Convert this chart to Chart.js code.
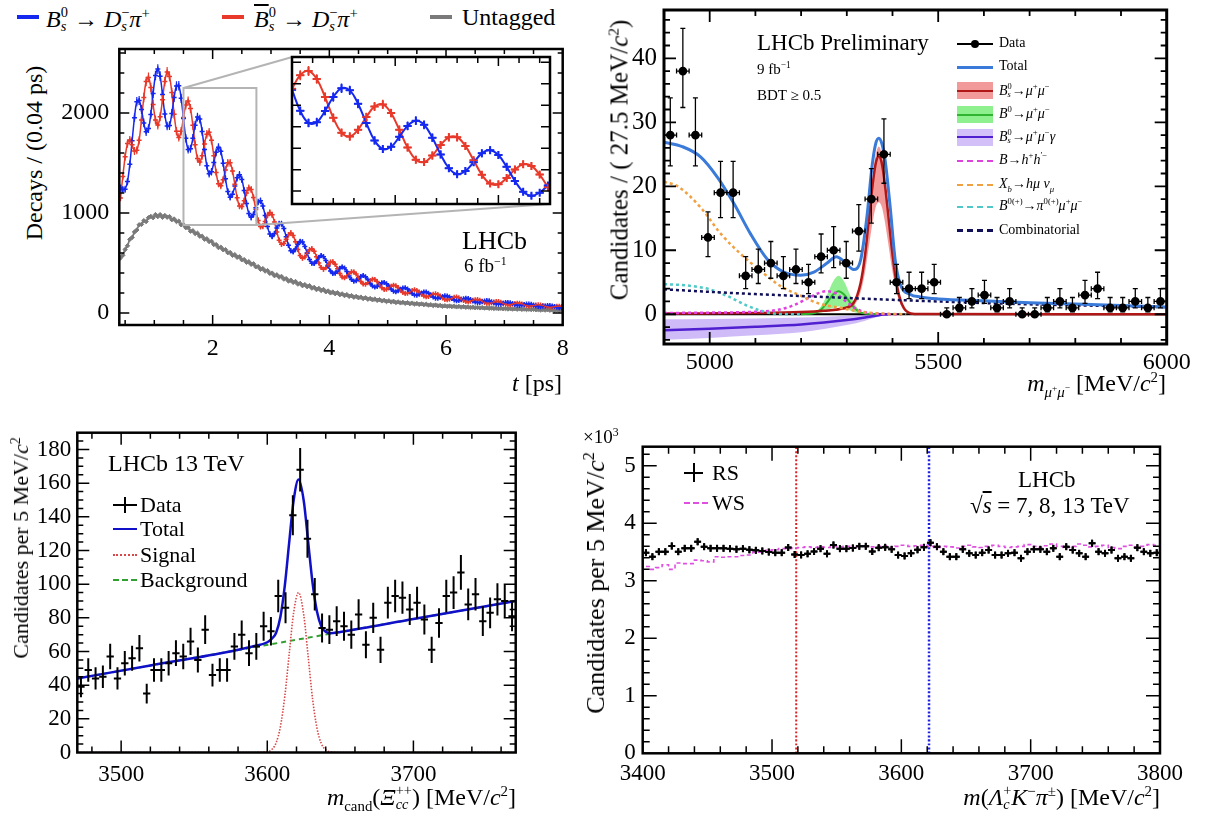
<!DOCTYPE html>
<html lang="en">
<head>
<meta charset="utf-8">
<title>LHCb results</title>
<script src="https://cdn.jsdelivr.net/npm/chart.js@4.4.1/dist/chart.umd.min.js"></script>
<style>
  html, body { margin: 0; padding: 0; background: #fff; }
  body { position: relative; width: 1207px; height: 817px; overflow: hidden;
         font-family: "Liberation Serif", "Times New Roman", serif; color: #000; }
  canvas { position: absolute; }
  .t { position: absolute; white-space: nowrap; line-height: 1; z-index: 5; }
  .v { position: absolute; white-space: nowrap; line-height: 1; z-index: 5;
       transform: translate(-50%, -50%) rotate(-90deg); }
  .sym { position: absolute; z-index: 5; }
  sup, sub { font-size: 0.62em; line-height: 0; }
  .ss { display: inline-block; font-size: 0.6em; line-height: 1; vertical-align: -0.32em; text-align: left; }
</style>
</head>
<body>

<canvas id="tl"></canvas>
<canvas id="tlInset" style="z-index:3"></canvas>
<canvas id="tr"></canvas>
<canvas id="bl"></canvas>
<canvas id="br"></canvas>

<!-- top left -->
<div class="sym" style="left:17px;top:15px;width:22px;height:4px;background:#1428f0"></div>
<div class="t" style="left:46px;top:5px;font-size:24px"><i>B</i><span class="ss">0<br><i>s</i></span> → <i>D</i><span class="ss">−<br><i>s</i></span><i>π</i><sup>+</sup></div>
<div class="sym" style="left:222px;top:15px;width:22px;height:4px;background:#e8392a"></div>
<div class="t" style="left:254px;top:5px;font-size:24px"><i style="text-decoration:overline">B</i><span class="ss">0<br><i>s</i></span> → <i>D</i><span class="ss">−<br><i>s</i></span><i>π</i><sup>+</sup></div>
<div class="sym" style="left:430px;top:15px;width:22px;height:4px;background:#7a7a7a"></div>
<div class="t" style="left:462px;top:5px;font-size:24px">Untagged</div>
<div class="v" style="left:34px;top:153px;font-size:24px">Decays / (0.04 ps)</div>
<div class="t" style="right:645px;top:371px;font-size:24px"><i>t</i> [ps]</div>
<div class="t" style="left:462px;top:228px;font-size:26px">LHCb</div>
<div class="t" style="left:464px;top:256px;font-size:19px">6 fb<sup>−1</sup></div>

<!-- top right -->
<div class="v" style="left:619px;top:160px;font-size:25px">Candidates / ( 27.5 MeV/<i>c</i><sup>2</sup>)</div>
<div class="t" style="right:41px;top:371px;font-size:24px"><i>m</i><sub><i>μ</i><sup>+</sup><i>μ</i><sup>−</sup></sub> [MeV/<i>c</i><sup>2</sup>]</div>
<div class="t" style="left:757px;top:31px;font-size:23px">LHCb Preliminary</div>
<div class="t" style="left:757px;top:62px;font-size:15px">9 fb<sup>−1</sup></div>
<div class="t" style="left:757px;top:88px;font-size:15px">BDT ≥ 0.5</div>

<div class="sym" style="left:957px;top:43px;width:36px;height:2px;background:#000"></div>
<div class="sym" style="left:971px;top:40px;width:8px;height:8px;border-radius:50%;background:#000"></div>
<div class="t" style="left:999px;top:36px;font-size:14px">Data</div>
<div class="sym" style="left:957px;top:66px;width:36px;height:3px;background:#3a7ad8"></div>
<div class="t" style="left:999px;top:59px;font-size:14px">Total</div>
<div class="sym" style="left:957px;top:82px;width:36px;height:17px;background:#f29a9a"></div>
<div class="sym" style="left:957px;top:90px;width:36px;height:2px;background:#b01818"></div>
<div class="t" style="left:999px;top:83px;font-size:14px"><i>B</i><span class="ss">0<br><i>s</i></span>→<i>μ</i><sup>+</sup><i>μ</i><sup>−</sup></div>
<div class="sym" style="left:957px;top:106px;width:36px;height:17px;background:#8ef08e"></div>
<div class="sym" style="left:957px;top:114px;width:36px;height:2px;background:#2fb52f"></div>
<div class="t" style="left:999px;top:107px;font-size:14px"><i>B</i><sup>0</sup>→<i>μ</i><sup>+</sup><i>μ</i><sup>−</sup></div>
<div class="sym" style="left:957px;top:129px;width:36px;height:17px;background:#d3c0f8"></div>
<div class="sym" style="left:957px;top:136px;width:36px;height:2px;background:#5020d0"></div>
<div class="t" style="left:999px;top:129px;font-size:14px"><i>B</i><span class="ss">0<br><i>s</i></span>→<i>μ</i><sup>+</sup><i>μ</i><sup>−</sup><i>γ</i></div>
<div class="sym" style="left:957px;top:160px;width:36px;border-top:2px dashed #e040e0"></div>
<div class="t" style="left:999px;top:153px;font-size:14px"><i>B</i>→<i>h</i><sup>+</sup><i>h</i><sup>′−</sup></div>
<div class="sym" style="left:957px;top:184px;width:36px;border-top:2px dashed #f0a040"></div>
<div class="t" style="left:999px;top:177px;font-size:14px"><i>X</i><sub><i>b</i></sub>→<i>hμ ν</i><sub><i>μ</i></sub></div>
<div class="sym" style="left:957px;top:206px;width:36px;border-top:2px dashed #50c8c8"></div>
<div class="t" style="left:999px;top:199px;font-size:14px"><i>B</i><sup>0(+)</sup>→<i>π</i><sup>0(+)</sup><i>μ</i><sup>+</sup><i>μ</i><sup>−</sup></div>
<div class="sym" style="left:957px;top:229px;width:36px;border-top:3px dashed #10105a"></div>
<div class="t" style="left:999px;top:223px;font-size:14px">Combinatorial</div>

<!-- bottom left -->
<div class="v" style="left:21px;top:548px;font-size:22px">Candidates per 5 MeV/<i>c</i><sup>2</sup></div>
<div class="t" style="right:691px;top:783px;font-size:24px"><i>m</i><sub>cand</sub>(<i>Ξ</i><span class="ss">++<br><i>cc</i></span>) [MeV/<i>c</i><sup>2</sup>]</div>
<div class="t" style="left:108px;top:451px;font-size:24px">LHCb 13 TeV</div>
<div class="sym" style="left:113px;top:504px;width:24px;height:2px;background:#000"></div>
<div class="sym" style="left:124px;top:497px;width:2px;height:16px;background:#000"></div>
<div class="t" style="left:140px;top:494px;font-size:22px">Data</div>
<div class="sym" style="left:113px;top:528px;width:24px;border-top:2px solid #1010c8"></div>
<div class="t" style="left:140px;top:518px;font-size:22px">Total</div>
<div class="sym" style="left:113px;top:554px;width:24px;border-top:2px dotted #d84848"></div>
<div class="t" style="left:140px;top:544px;font-size:22px">Signal</div>
<div class="sym" style="left:113px;top:579px;width:24px;border-top:2px dashed #30a030"></div>
<div class="t" style="left:140px;top:569px;font-size:22px">Background</div>

<!-- bottom right -->
<div class="t" style="left:583px;top:427px;font-size:19px">×10<sup>3</sup></div>
<div class="v" style="left:596px;top:583px;font-size:26px">Candidates per 5 MeV/<i>c</i><sup>2</sup></div>
<div class="t" style="right:47px;top:783px;font-size:24px"><i>m</i>(<i>Λ</i><span class="ss">+<br><i>c</i></span><i>K</i><sup>−</sup><i>π</i><sup>±</sup>) [MeV/<i>c</i><sup>2</sup>]</div>
<div class="sym" style="left:684px;top:472px;width:19px;height:2px;background:#000"></div>
<div class="sym" style="left:693px;top:463px;width:2px;height:19px;background:#000"></div>
<div class="t" style="left:712px;top:462px;font-size:22px">RS</div>
<div class="sym" style="left:684px;top:502px;width:24px;border-top:2px dashed #e050e0"></div>
<div class="t" style="left:712px;top:492px;font-size:22px">WS</div>
<div class="t" style="left:1018px;top:468px;font-size:23px">LHCb</div>
<div class="t" style="left:970px;top:494px;font-size:23px">√<span style="text-decoration:overline"><i>s</i></span> = 7, 8, 13 TeV</div>

<script>
// ---------- top left: Bs -> Ds pi decay time ----------
const TIME_BIN_START = 0.4;
const TIME_BIN_WIDTH = 0.04;
const TIME_TICKS = [2, 4, 6, 8];
const DECAY_TICKS = [0, 1000, 2000];

const BS_TAGGED = [
  1249,1236,1238,1314,1487,1722,1953,2113,2125,2035,
  1901,1813,1844,1986,2196,2375,2439,2368,2185,1991,
  1870,1874,1995,2156,2271,2272,2147,1945,1748,1636,
  1643,1747,1877,1959,1939,1815,1634,1472,1392,1413,
  1506,1608,1657,1618,1498,1342,1214,1158,1187,1269,
  1352,1382,1336,1226,1095,994,957,986,1052,1110,
  1122,1071,974,866,789,766,795,849,892,893,
  844,762,677,623,612,641,686,716,710,666,
  599,535,497,494,521,555,574,563,524,469,
  421,395,398,421,448,460,450,415,371,334,
  317,323,344,366,374,362,333,298,270,259,
  266,285,303,306,293,268,240,218,213,222,
  238,250,253,241,218,195,180,178,187,201,
  210,210,198,179,160,148,147,155,166,172,
  170,160,145,131,123,125,132,142,147,144,
  134,121,109,104,106,113,121,125,122,112,
  101,92,88,91,97,104,106,103,94,85,
  78,75,79,84,90,90,87,79,70,65,
  63,67,71,75,75,71,64,57,52,52
];
const BSBAR_TAGGED = [
  1151,1364,1562,1694,1729,1682,1619,1627,1727,1929,
  2155,2315,2356,2254,2084,1931,1879,1962,2133,2315,
  2410,2366,2205,1988,1817,1756,1817,1955,2080,2120,
  2045,1877,1683,1545,1509,1573,1690,1788,1808,1727,
  1572,1406,1293,1272,1332,1430,1502,1502,1421,1287,
  1152,1070,1064,1122,1201,1250,1235,1154,1036,926,
  864,867,916,976,1005,982,909,811,728,687,
  696,738,783,801,776,713,636,574,548,560,
  597,633,643,618,563,501,454,437,452,483,
  509,513,488,443,394,360,352,367,393,412,
  411,389,352,314,290,288,303,324,338,335,
  314,283,253,236,237,250,268,278,273,254,
  228,206,195,197,210,225,232,226,209,187,
  170,162,166,177,188,192,185,169,150,136,
  132,138,147,157,159,153,140,126,115,112,
  118,127,133,134,128,117,105,97,96,102,
  109,114,114,107,97,88,82,83,88,95,
  98,97,91,82,74,70,71,75,80,83,
  81,75,67,61,57,59,62,67,68,66
];
const UNTAGGED = [
  550,577,635,672,736,756,810,830,882,886,
  923,914,953,966,953,984,964,984,957,975,
  958,964,933,940,915,918,882,884,853,855,
  818,823,795,798,768,768,738,742,714,717,
  685,684,654,658,632,634,603,605,577,583,
  557,562,532,534,507,513,487,492,462,464,
  437,444,419,424,396,399,373,382,359,366,
  339,344,319,328,306,315,289,296,273,284,
  263,273,249,256,234,246,225,235,212,220,
  201,210,193,202,183,191,174,184,166,174,
  158,166,152,159,144,152,138,145,132,140,
  126,133,121,127,115,122,110,117,105,111,
  101,107,97,103,93,99,90,95,86,91,
  83,88,79,83,75,80,72,76,68,72,
  66,70,64,68,61,66,59,63,57,60,
  55,58,52,56,51,54,49,52,47,50,
  45,48,43,47,42,45,40,44,39,43,
  38,41,36,39,35,38,34,37,32,35,
  30,34,29,33,28,31,26,30,25,29
];
// zoomed window and where the inset sits (in main-plot units)
const ZOOM_T = [1.5, 2.75];
const ZOOM_N = [880, 2250];
const INSET_T = [3.365, 7.78];
const INSET_N = [1090, 2560];

// ---------- top right: Bs -> mu mu ----------
const MUMU_BIN_START = 4900;
const MUMU_BIN_WIDTH = 27.5;
const MUMU_TICKS_X = [5000, 5500, 6000];
const MUMU_TICKS_Y = [0, 10, 20, 30, 40];
const MUMU_COUNTS = [28,38,28,12,19,19,6,7,8,6, 7,5,9,10,8,13,18,25,5,4,
                     4,5,0,1,2,3,1,2,0,0, 1,2,1,3,4,1,1,2,1,2];

const TOTAL_X = [4900,4940,4980,5017,5053,5089,5126,5162,5199,5228,5257,5277,5295,5315,5330,5344,5355,5363,5370,5377,5384,5395,5406,5417,5439,5461,5500,5600,5700,5800,5900,6000];
const TOTAL_Y = [26.9,26.2,24.6,21.4,17.3,12.6,8.6,6.6,6.1,6.6,8.0,9.0,8.2,7.0,8.4,15.2,23.0,26.6,27.5,26.6,24.0,16.7,8.4,4.7,3.1,2.7,2.4,2.1,1.8,1.6,1.35,1.15];
const BSMM_X = [4900,5100,5200,5250,5290,5315,5330,5340,5350,5358,5364,5370,5376,5382,5390,5398,5406,5415,5425,5440,5460,6000];
const BSMM_Y = [0.1,0.2,0.35,0.55,0.9,1.8,4.8,9.3,16.0,21.1,23.8,24.7,23.8,21.1,16.0,10.6,6.1,2.8,0.94,0.12,0.02,0];
const BSMM_HI = [0.15,0.25,0.4,0.6,1.0,1.9,5.1,9.9,17.0,22.4,25.2,26.2,25.2,22.4,17.0,11.2,6.5,3.0,1.0,0.13,0.02,0];
const BSMM_LO = [0.05,0.15,0.25,0.4,0.65,1.3,3.4,6.6,11.4,15.0,16.9,17.5,16.9,15.0,11.4,7.5,4.3,2.0,0.67,0.08,0.01,0];
const BDMM_X = [5200,5230,5245,5258,5270,5282,5294,5306,5319,5334,5365];
const BDMM_Y = [0,0.19,0.82,1.93,3.08,3.6,3.08,1.93,0.82,0.19,0];
const BDMM_HI = [0,0.32,1.37,3.2,5.1,6.0,5.1,3.2,1.37,0.32,0];
const BDMM_LO = [0,0.06,0.27,0.64,1.0,1.2,1.0,0.64,0.27,0.06,0];
const GAMMA_X = [4900,5000,5100,5200,5250,5300,5340,5370,5390];
const GAMMA_Y = [-2.5,-2.25,-1.95,-1.6,-1.3,-0.9,-0.5,-0.15,0];
const GAMMA_HI = [-0.8,-0.75,-0.65,-0.5,-0.38,-0.25,-0.12,-0.03,0];
const GAMMA_LO = [-4.0,-3.7,-3.3,-2.8,-2.3,-1.7,-1.0,-0.35,0];
const HH_X = [4900,5000,5100,5150,5180,5210,5235,5255,5275,5295,5315,5335,5360,5420];
const HH_Y = [0.2,0.25,0.4,0.7,1.3,2.3,3.2,3.6,3.3,2.2,1.1,0.4,0.1,0];
const XB_X = [4900,4930,4980,5024,5068,5111,5155,5199,5242,5286,5330,5380,5430];
const XB_Y = [20.7,20.0,16.7,12.6,9.4,6.8,4.4,2.9,1.6,1.0,0.4,0.1,0];
const PIMM_X = [4900,4950,5000,5040,5080,5110,5140,5200];
const PIMM_Y = [4.7,4.5,3.9,2.8,1.4,0.6,0.1,0];
const COMB_X = [4900,5000,5100,5200,5300,5400,5500,5600,5700,5800,5900,6000];
const COMB_Y = [3.9,3.5,3.15,2.85,2.55,2.25,2.0,1.75,1.55,1.4,1.25,1.1];

// ---------- bottom left: Xi_cc++ ----------
const XI_BIN_START = 3470;
const XI_BIN_WIDTH = 5;
const XI_TICKS_X = [3500, 3600, 3700];
const XI_TICKS_Y = [0, 20, 40, 60, 80, 100, 120, 140, 160, 180];
const XI_COUNTS = [39,49,44,45,57,44,53,56,62,35, 49,49,53,59,57,66,55,73,46,49,
                   49,63,70,59,63,75,72,93,86,141, 168,127,94,74,73,78,75,70,82,64,
                   80,61,89,93,92,85,89,79,61,77, 93,95,107,88,94,78,83,91,90,81];
const XI_TOTAL_X = [3470,3520,3570,3590,3600,3603,3606,3609,3612,3615,3618,3621.4,3625,3628,3631,3634,3637,3640,3643,3650,3700,3770];
const XI_TOTAL_Y = [44,51.7,59.3,63,65.5,67.5,71,80.7,99.2,124.8,149.5,162.2,149.3,125.0,100.6,83.7,74.9,71.7,70.9,71.6,79.3,90];
const XI_SIG_X = [3470,3590,3597,3600,3603,3606,3609,3612,3615,3618,3621.4,3625,3628,3631,3634,3637,3640,3643,3650,3770];
const XI_SIG_Y = [0,0,0.2,0.4,1.7,5.7,15.4,33.4,58.5,82.8,95,81.5,56.8,31.9,14.5,5.3,1.6,0.4,0,0];
const XI_BKG_X = [3470, 3770];
const XI_BKG_Y = [44, 90];

// ---------- bottom right: Lc K pi, right/wrong sign ----------
const LKP_BIN_START = 3400;
const LKP_BIN_WIDTH = 5;
const LKP_TICKS_X = [3400, 3500, 3600, 3700, 3800];
const LKP_TICKS_Y = [0, 1000, 2000, 3000, 4000, 5000];
const RS_COUNTS = [3490,3420,3507,3507,3606,3507,3565,3565,3681,3594,
                   3565,3565,3565,3560,3550,3560,3540,3530,3520,3500,
                   3490,3490,3580,3460,3450,3470,3510,3560,3470,3623,
                   3560,3560,3570,3600,3600,3510,3577,3582,3548,3449,
                   3432,3478,3540,3582,3664,3594,3507,3420,3420,3548,
                   3478,3449,3490,3536,3449,3449,3478,3490,3391,3507,
                   3548,3548,3507,3565,3420,3594,3536,3478,3420,3652,
                   3507,3478,3536,3391,3420,3391,3577,3507,3478,3490];
const WS_COUNTS = [3250,3200,3230,3280,3200,3310,3300,3300,3360,3350,
                   3330,3420,3410,3420,3420,3440,3450,3500,3500,3530,
                   3540,3560,3560,3570,3580,3590,3580,3590,3580,3600,
                   3590,3600,3580,3610,3600,3590,3600,3610,3580,3600,
                   3620,3600,3610,3620,3600,3580,3600,3590,3570,3600,
                   3620,3590,3580,3600,3620,3600,3580,3590,3600,3630,
                   3600,3580,3610,3640,3600,3580,3600,3640,3620,3590,
                   3600,3620,3580,3560,3600,3620,3590,3600,3630,3620];
const XI_CC_PLUS_MASS = 3518.7;
const XI_CC_PLUSPLUS_MASS = 3621.4;

// ---------- layout ----------
const TL_BOX = { x: 50, y: 40, w: 530, h: 335 };
const TL_AREA = { left: 119.3, top: 49, right: 562.7, bottom: 325 };
const TR_BOX = { x: 625, y: 0, w: 572, h: 375 };
const TR_AREA = { left: 664, top: 10, right: 1166.7, bottom: 344 };
const BL_BOX = { x: 30, y: 425, w: 500, h: 370 };
const BL_AREA = { left: 77.3, top: 432.7, right: 515.7, bottom: 752.5 };
const BR_BOX = { x: 600, y: 440, w: 600, h: 355 };
const BR_AREA = { left: 642.7, top: 446.7, right: 1160, bottom: 753.3 };

Chart.defaults.font.family = '"Liberation Serif", "Times New Roman", serif';
Chart.defaults.color = '#000';

const binned = (start, width, values) => values.map((v, i) => ({ x: start + width * (i + 0.5), y: v }));
const paired = (xs, ys) => xs.map((x, i) => ({ x, y: ys[i] }));

const line = (data, color, width, dash, extra) => Object.assign({
  data, showLine: true, borderColor: color, borderWidth: width, borderDash: dash || [],
  pointRadius: 0, fill: false, cubicInterpolationMode: 'monotone'
}, extra || {});

const points = (data, color, style, radius, extra) => Object.assign({
  data, showLine: false, borderColor: color, backgroundColor: color,
  pointStyle: style, pointRadius: radius, pointBorderWidth: 1.5
}, extra || {});

// frame plus inward ticks on all four sides
const frameTicks = {
  id: 'frameTicks',
  afterDraw(chart, args, o) {
    const { ctx, chartArea: a, scales: { x, y } } = chart;
    const steps = (sc, step) => {
      const out = [];
      for (let k = Math.ceil(sc.min / step - 1e-9); k * step <= sc.max + 1e-9; k++) out.push(k * step);
      return out;
    };
    ctx.save();
    ctx.strokeStyle = '#000';
    ctx.lineWidth = o.tickWidth;
    ctx.beginPath();
    const tickX = (v, len) => {
      const p = x.getPixelForValue(v);
      if (p < a.left + 1 || p > a.right - 1) return;
      ctx.moveTo(p, a.bottom); ctx.lineTo(p, a.bottom - len);
      ctx.moveTo(p, a.top); ctx.lineTo(p, a.top + len);
    };
    const tickY = (v, len) => {
      const p = y.getPixelForValue(v);
      if (p < a.top + 1 || p > a.bottom - 1) return;
      ctx.moveTo(a.left, p); ctx.lineTo(a.left + len, p);
      ctx.moveTo(a.right, p); ctx.lineTo(a.right - len, p);
    };
    steps(x, o.xMinor).forEach(v => tickX(v, o.minorLen));
    steps(y, o.yMinor).forEach(v => tickY(v, o.minorLen));
    steps(x, o.xMajor).forEach(v => tickX(v, o.majorLen));
    steps(y, o.yMajor).forEach(v => tickY(v, o.majorLen));
    ctx.stroke();
    ctx.lineWidth = o.frameWidth;
    ctx.strokeRect(a.left, a.top, a.right - a.left, a.bottom - a.top);
    ctx.restore();
  }
};

// poisson error bars, drawn from each dataset's own points
const errorBars = {
  id: 'errorBars',
  afterDatasetsDraw(chart) {
    const { ctx, chartArea: a, scales: { x, y } } = chart;
    chart.data.datasets.forEach(ds => {
      const eb = ds.errorBars;
      if (!eb) return;
      ctx.save();
      ctx.beginPath();
      ctx.rect(a.left, a.top, a.right - a.left, a.bottom - a.top);
      ctx.clip();
      ctx.strokeStyle = eb.color || ds.borderColor;
      ctx.lineWidth = eb.width;
      ctx.beginPath();
      ds.data.forEach(p => {
        const n = Math.max(p.y, 0);
        const up = eb.garwood ? 0.5 + Math.sqrt(n + 0.25) : Math.sqrt(n);
        const dn = eb.garwood ? Math.sqrt(n + 0.25) - 0.5 : Math.sqrt(n);
        const px = x.getPixelForValue(p.x), py = y.getPixelForValue(p.y);
        const y0 = y.getPixelForValue(p.y - dn), y1 = y.getPixelForValue(p.y + up);
        const x0 = x.getPixelForValue(p.x - eb.xHalf), x1 = x.getPixelForValue(p.x + eb.xHalf);
        ctx.moveTo(px, y0); ctx.lineTo(px, y1);
        ctx.moveTo(x0, py); ctx.lineTo(x1, py);
        if (eb.cap) {
          const c = eb.cap;
          ctx.moveTo(px - c, y0); ctx.lineTo(px + c, y0);
          ctx.moveTo(px - c, y1); ctx.lineTo(px + c, y1);
          ctx.moveTo(x0, py - c); ctx.lineTo(x0, py + c);
          ctx.moveTo(x1, py - c); ctx.lineTo(x1, py + c);
        }
      });
      ctx.stroke();
      ctx.restore();
    });
  }
};

function axis(min, max, labels, size, pad, fmt) {
  return {
    type: 'linear', min, max,
    afterBuildTicks: ax => { ax.ticks = labels.map(value => ({ value })); },
    grid: { display: false, drawTicks: false },
    border: { display: false },
    ticks: { color: '#000', font: { size }, padding: pad, autoSkip: false,
             maxRotation: 0, minRotation: 0, callback: fmt || (v => String(v)) }
  };
}

function makeChart(id, box, area, xAxis, yAxis, datasets, ticks, extra) {
  const cv = document.getElementById(id);
  cv.width = box.w; cv.height = box.h;
  cv.style.left = box.x + 'px'; cv.style.top = box.y + 'px';
  // fixed axis sizes, and no extra room for half labels at the ends
  const noPad = ax => { ax.paddingTop = 0; ax.paddingBottom = 0; ax.paddingLeft = 0; ax.paddingRight = 0; };
  xAxis.afterFit = ax => { ax.height = box.y + box.h - area.bottom; noPad(ax); };
  yAxis.afterFit = ax => { ax.width = area.left - box.x; noPad(ax); };
  return new Chart(cv, {
    type: 'line',
    data: { datasets },
    options: {
      responsive: false, animation: false, events: [],
      layout: { autoPadding: false,
                padding: { left: 0, bottom: 0, top: area.top - box.y, right: box.x + box.w - area.right } },
      scales: { x: xAxis, y: yAxis },
      plugins: { legend: { display: false }, tooltip: { enabled: false }, frameTicks: ticks }
    },
    plugins: [errorBars, frameTicks].concat(extra || [])
  });
}

// ---------- top left ----------
const BLUE = '#1428f0', RED = '#e8392a', GRAY = '#7a7a7a';
const bsPts = binned(TIME_BIN_START, TIME_BIN_WIDTH, BS_TAGGED);
const bsbarPts = binned(TIME_BIN_START, TIME_BIN_WIDTH, BSBAR_TAGGED);
const untagPts = binned(TIME_BIN_START, TIME_BIN_WIDTH, UNTAGGED);

const zoomBox = {
  id: 'zoomBox',
  afterDraw(chart) {
    const { ctx, scales: { x, y } } = chart;
    const X = v => x.getPixelForValue(v), Y = v => y.getPixelForValue(v);
    ctx.save();
    ctx.strokeStyle = '#b4b4b4';
    ctx.lineWidth = 2;
    ctx.strokeRect(X(ZOOM_T[0]), Y(ZOOM_N[1]), X(ZOOM_T[1]) - X(ZOOM_T[0]), Y(ZOOM_N[0]) - Y(ZOOM_N[1]));
    ctx.beginPath();
    ctx.moveTo(X(ZOOM_T[0]), Y(ZOOM_N[1])); ctx.lineTo(X(INSET_T[0]), Y(INSET_N[1]));
    ctx.moveTo(X(ZOOM_T[1]), Y(ZOOM_N[0])); ctx.lineTo(X(INSET_T[1]), Y(INSET_N[0]));
    ctx.stroke();
    ctx.restore();
  }
};

const tagSet = (data, color, r, w) => line(data, color, w, null, {
  tension: 0.35, cubicInterpolationMode: 'default',
  pointStyle: 'cross', pointRadius: r, pointBorderColor: color, pointBorderWidth: w,
  errorBars: { width: 1.2, xHalf: 0.02 }
});

const tl = makeChart('tl', TL_BOX, TL_AREA,
  axis(0.4, 8, TIME_TICKS, 24, 9),
  axis(-120, 2640, DECAY_TICKS, 24, 10),
  [
    tagSet(bsPts, BLUE, 2.5, 1.5),
    tagSet(bsbarPts, RED, 2.5, 1.5),
    line(untagPts, GRAY, 1.8, null, { tension: 0.3, cubicInterpolationMode: 'default',
      pointStyle: 'rectRot', pointRadius: 2.2, pointBackgroundColor: GRAY, pointBorderColor: GRAY, pointBorderWidth: 1 })
  ],
  { xMinor: 0.5, xMajor: 2, yMinor: 200, yMajor: 1000, minorLen: 5, majorLen: 10, tickWidth: 1.5, frameWidth: 2.5 },
  [zoomBox]);

// inset placed over the main plot
(function () {
  const x0 = TL_BOX.x + tl.scales.x.getPixelForValue(INSET_T[0]);
  const x1 = TL_BOX.x + tl.scales.x.getPixelForValue(INSET_T[1]);
  const y0 = TL_BOX.y + tl.scales.y.getPixelForValue(INSET_N[1]);
  const y1 = TL_BOX.y + tl.scales.y.getPixelForValue(INSET_N[0]);
  const cv = document.getElementById('tlInset');
  cv.width = Math.round(x1 - x0) + 4; cv.height = Math.round(y1 - y0) + 4;
  cv.style.left = (x0 - 2) + 'px'; cv.style.top = (y0 - 2) + 'px';
  const whiteBg = {
    id: 'whiteBg',
    beforeDraw(chart) {
      const { ctx, chartArea: a } = chart;
      ctx.save(); ctx.fillStyle = '#fff';
      ctx.fillRect(a.left, a.top, a.right - a.left, a.bottom - a.top);
      ctx.restore();
    }
  };
  const insetSet = (data, color) => line(data, color, 2, null, {
    tension: 0.4, cubicInterpolationMode: 'default',
    pointStyle: 'cross', pointRadius: 4, pointBorderColor: color, pointBorderWidth: 2,
    errorBars: { width: 1.5, xHalf: 0.02 }
  });
  new Chart(cv, {
    type: 'line',
    data: { datasets: [insetSet(bsPts, BLUE), insetSet(bsbarPts, RED)] },
    options: {
      responsive: false, animation: false, events: [],
      layout: { autoPadding: false, padding: 2 },
      scales: {
        x: { type: 'linear', display: false, min: ZOOM_T[0], max: ZOOM_T[1] },
        y: { type: 'linear', display: false, min: ZOOM_N[0], max: ZOOM_N[1] }
      },
      plugins: { legend: { display: false }, tooltip: { enabled: false },
        frameTicks: { xMinor: 0.1, xMajor: 0.5, yMinor: 200, yMajor: 200, minorLen: 6, majorLen: 9, tickWidth: 1.5, frameWidth: 2.5 } }
    },
    plugins: [whiteBg, errorBars, frameTicks]
  });
})();

// ---------- top right ----------
makeChart('tr', TR_BOX, TR_AREA,
  axis(4900, 6000, MUMU_TICKS_X, 24, 4),
  axis(-4.65, 47.55, MUMU_TICKS_Y, 25, 7),
  [
    points(binned(MUMU_BIN_START, MUMU_BIN_WIDTH, MUMU_COUNTS), '#000', 'circle', 3.6,
      { errorBars: { width: 1.3, xHalf: MUMU_BIN_WIDTH / 2, cap: 2.5, garwood: true } }),
    line(paired(TOTAL_X, TOTAL_Y), '#3a7ad8', 3),
    line(paired(COMB_X, COMB_Y), '#10105a', 2.5, [3, 3]),
    line(paired(PIMM_X, PIMM_Y), '#50c8c8', 2.5, [3, 3]),
    line(paired(XB_X, XB_Y), '#f0a040', 2.5, [3, 3]),
    line(paired(HH_X, HH_Y), '#e040e0', 2.5, [3, 3]),
    line(paired(BSMM_X, BSMM_Y), '#b01818', 2.5),
    line(paired(BDMM_X, BDMM_Y), '#2fb52f', 2),
    line(paired(GAMMA_X, GAMMA_Y), '#5020d0', 2.5),
    line(paired([4900, 6000], [0, 0]), '#000', 1.8),
    line(paired(BSMM_X, BSMM_HI), 'rgba(0,0,0,0)', 0, null, { fill: '+1', backgroundColor: 'rgba(236,110,110,0.7)' }),
    line(paired(BSMM_X, BSMM_LO), 'rgba(0,0,0,0)', 0),
    line(paired(BDMM_X, BDMM_HI), 'rgba(0,0,0,0)', 0, null, { fill: '+1', backgroundColor: 'rgba(120,235,120,0.8)' }),
    line(paired(BDMM_X, BDMM_LO), 'rgba(0,0,0,0)', 0),
    line(paired(GAMMA_X, GAMMA_HI), 'rgba(0,0,0,0)', 0, null, { fill: '+1', backgroundColor: 'rgba(195,170,245,0.8)' }),
    line(paired(GAMMA_X, GAMMA_LO), 'rgba(0,0,0,0)', 0)
  ],
  { xMinor: 100, xMajor: 500, yMinor: 2, yMajor: 10, minorLen: 6, majorLen: 12, tickWidth: 1.8, frameWidth: 3 });

// ---------- bottom left ----------
makeChart('bl', BL_BOX, BL_AREA,
  axis(3470, 3770, XI_TICKS_X, 23, 9),
  axis(0, 190, XI_TICKS_Y, 23, 6),
  [
    points(binned(XI_BIN_START, XI_BIN_WIDTH, XI_COUNTS), '#000', 'circle', 0,
      { errorBars: { width: 2, xHalf: XI_BIN_WIDTH / 2 } }),
    line(paired(XI_TOTAL_X, XI_TOTAL_Y), '#1010c8', 2.5),
    line(paired(XI_SIG_X, XI_SIG_Y), '#d84848', 1.6, [1.5, 1.5]),
    line(paired(XI_BKG_X, XI_BKG_Y), '#30a030', 2, [5, 4])
  ],
  { xMinor: 20, xMajor: 100, yMinor: 5, yMajor: 20, minorLen: 6, majorLen: 12, tickWidth: 1.5, frameWidth: 2.5 });

// ---------- bottom right ----------
makeChart('br', BR_BOX, BR_AREA,
  axis(3400, 3800, LKP_TICKS_X, 23, 7),
  axis(0, 5333, LKP_TICKS_Y, 23, 7, v => String(v / 1000)),
  [
    points(binned(LKP_BIN_START, LKP_BIN_WIDTH, RS_COUNTS), '#000', 'cross', 3.5,
      { pointBorderWidth: 2, errorBars: { width: 2, xHalf: LKP_BIN_WIDTH / 2 } }),
    line(binned(LKP_BIN_START, LKP_BIN_WIDTH, WS_COUNTS), '#e050e0', 1.6, [4, 3], { stepped: 'middle', cubicInterpolationMode: 'default' }),
    line(paired([XI_CC_PLUSPLUS_MASS, XI_CC_PLUSPLUS_MASS], [0, 5333]), '#2020e0', 2.5, [2, 2]),
    line(paired([XI_CC_PLUS_MASS, XI_CC_PLUS_MASS], [0, 5333]), '#e02020', 2, [2, 2])
  ],
  { xMinor: 20, xMajor: 100, yMinor: 200, yMajor: 1000, minorLen: 7, majorLen: 14, tickWidth: 1.5, frameWidth: 2.5 });
</script>
</body>
</html>
